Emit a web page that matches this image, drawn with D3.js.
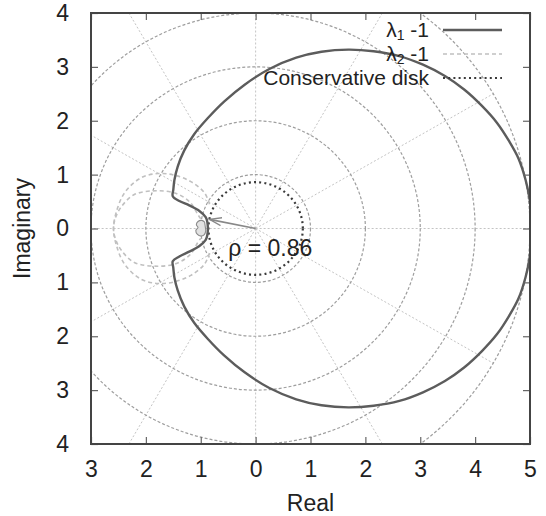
<!DOCTYPE html>
<html>
<head>
<meta charset="utf-8">
<script src="https://cdn.jsdelivr.net/npm/d3@7"></script>
<style>
  body { margin: 0; background: #fff; }
  text { font-family: "Liberation Sans", Arial, sans-serif; fill: #222; }
</style>
</head>
<body>
<div id="chart"></div>
<script>
// tick values and the labels as printed (minus signs are missing in the figure)
const xTicks = [-3, -2, -1, 0, 1, 2, 3, 4, 5];
const xTickLabels = ["3", "2", "1", "0", "1", "2", "3", "4", "5"];
const yTicks = [-4, -3, -2, -1, 0, 1, 2, 3, 4];
const yTickLabels = ["4", "3", "2", "1", "0", "1", "2", "3", "4"];

// polar grid
const gridRadii = [1, 2, 3, 4, 5];
const gridAngles = [0, 30, 60, 90, 120, 150, 180, 210, 240, 270, 300, 330];

// lambda_1 - 1 (solid)
const lambda1 = [
  [5.04, 0.0], [5.0, 0.5], [4.92, 0.9], [4.79, 1.3], [4.62, 1.62], [4.4, 1.96],
  [4.12, 2.28], [3.8, 2.58], [3.45, 2.83], [3.05, 3.04], [2.62, 3.2], [2.15, 3.29],
  [1.69, 3.32], [1.2, 3.28], [0.74, 3.17], [0.25, 2.96], [-0.2, 2.67], [-0.57, 2.36],
  [-0.87, 2.05], [-1.12, 1.75], [-1.3, 1.45], [-1.42, 1.15], [-1.48, 0.9], [-1.5, 0.72],
  [-1.51, 0.6], [-1.39, 0.51], [-1.21, 0.43], [-1.03, 0.33], [-0.91, 0.21],
  [-0.88, 0.12], [-0.88, -0.12], [-0.91, -0.21], [-1.03, -0.33], [-1.21, -0.43],
  [-1.39, -0.52], [-1.51, -0.61], [-1.5, -0.73], [-1.48, -0.91], [-1.42, -1.15],
  [-1.3, -1.45], [-1.12, -1.75], [-0.87, -2.05], [-0.57, -2.36], [-0.2, -2.67],
  [0.25, -2.96], [0.74, -3.17], [1.2, -3.28], [1.69, -3.32], [2.15, -3.29], [2.62, -3.2],
  [3.05, -3.04], [3.45, -2.83], [3.8, -2.58], [4.12, -2.28], [4.4, -1.96], [4.62, -1.62],
  [4.79, -1.3], [4.92, -0.9], [5.0, -0.5], [5.04, 0.0]
];
// small knot of lambda_1 near -1
const lambda1Knot = [
  [-0.93, 0.12], [-0.98, 0.15], [-1.05, 0.13], [-1.08, 0.07], [-1.05, 0.02], [-1.09, -0.04],
  [-1.06, -0.11], [-1.0, -0.14], [-0.94, -0.12], [-0.91, -0.05], [-0.92, 0.05], [-0.93, 0.12]
];

// lambda_2 - 1 (dashed), two loops on the left
const lambda2Outer = [
  [-0.84, 0.45], [-0.93, 0.66], [-1.18, 0.87], [-1.48, 0.99], [-1.78, 1.02], [-2.09, 0.94],
  [-2.39, 0.66], [-2.54, 0.3], [-2.59, 0.0], [-2.54, -0.3], [-2.39, -0.66], [-2.09, -0.94],
  [-1.78, -1.02], [-1.48, -0.99], [-1.18, -0.87], [-0.93, -0.66], [-0.84, -0.45]
];
const lambda2Inner = [
  [-1.0, 0.18], [-1.06, 0.27], [-1.18, 0.47], [-1.42, 0.64], [-1.78, 0.7], [-2.21, 0.63],
  [-2.45, 0.4], [-2.56, 0.18], [-2.59, 0.0], [-2.56, -0.18], [-2.45, -0.4], [-2.21, -0.63],
  [-1.78, -0.7], [-1.42, -0.64], [-1.18, -0.47], [-1.06, -0.27], [-1.0, -0.18]
];

const rho = 0.86;
const arrowTip = [-0.84, 0.17];
const legendItems = ["λ1", "λ2", "Conservative disk"];

const W = 546, H = 516;
const frame = { left: 91, right: 530, top: 13, bottom: 444 };
const fontSize = 23;

const svg = d3.select("#chart").append("svg")
  .attr("width", W).attr("height", H);

const x = d3.scaleLinear().domain([-3, 5]).range([frame.left, frame.right]);
const y = d3.scaleLinear().domain([-4, 4]).range([frame.bottom, frame.top]);

const defs = svg.append("defs");
defs.append("clipPath").attr("id", "plot")
  .append("rect").attr("x", frame.left).attr("y", frame.top)
  .attr("width", frame.right - frame.left).attr("height", frame.bottom - frame.top);
defs.append("marker").attr("id", "head")
  .attr("markerUnits", "userSpaceOnUse")
  .attr("markerWidth", 14).attr("markerHeight", 10)
  .attr("refX", 12).attr("refY", 5).attr("orient", "auto")
  .append("path").attr("d", "M0,1 L12,5 L0,9")
  .attr("fill", "none").attr("stroke", "#888").attr("stroke-width", 1.3);

const plot = svg.append("g").attr("clip-path", "url(#plot)");

// radial grid lines
plot.selectAll(".spoke")
  .data(gridAngles)
  .join("line")
    .attr("x1", x(0)).attr("y1", y(0))
    .attr("x2", a => x(5 * Math.cos(a * Math.PI / 180)))
    .attr("y2", a => y(5 * Math.sin(a * Math.PI / 180)))
    .attr("stroke", "#c4c4c4").attr("stroke-width", 1)
    .attr("stroke-dasharray", "2,2");

// grid circles
plot.selectAll(".ring")
  .data(gridRadii)
  .join("ellipse")
    .attr("cx", x(0)).attr("cy", y(0))
    .attr("rx", r => x(r) - x(0)).attr("ry", r => y(0) - y(r))
    .attr("fill", "none").attr("stroke", "#9e9e9e").attr("stroke-width", 1.2)
    .attr("stroke-dasharray", "3,2");

const line = d3.line().x(d => x(d[0])).y(d => y(d[1])).curve(d3.curveCatmullRom);

// lambda 2 dashed
[lambda2Outer, lambda2Inner].forEach(pts => {
  plot.append("path").attr("d", line(pts))
    .attr("fill", "none").attr("stroke", "#c0c0c0").attr("stroke-width", 1.6)
    .attr("stroke-dasharray", "4,3");
});

// conservative disk
plot.append("ellipse")
  .attr("cx", x(0)).attr("cy", y(0))
  .attr("rx", x(rho) - x(0)).attr("ry", y(0) - y(rho))
  .attr("fill", "none").attr("stroke", "#3a3a3a").attr("stroke-width", 2.2)
  .attr("stroke-dasharray", "2,3.2");

// lambda 1 solid
plot.append("path").attr("d", line(lambda1))
  .attr("fill", "none").attr("stroke", "#5c5c5c").attr("stroke-width", 2.4);
plot.append("path").attr("d", line(lambda1Knot))
  .attr("fill", "#e2e2e2").attr("stroke", "#8a8a8a").attr("stroke-width", 1.1);

// arrow
plot.append("line")
  .attr("x1", x(0)).attr("y1", y(0))
  .attr("x2", x(arrowTip[0])).attr("y2", y(arrowTip[1]))
  .attr("stroke", "#888").attr("stroke-width", 1.6)
  .attr("marker-end", "url(#head)");

svg.append("text")
  .attr("x", x(-0.5)).attr("y", y(-0.51))
  .attr("font-size", fontSize)
  .text("ρ = " + rho);

// axes with inward ticks, mirrored
const tickColor = "#666";
function styleAxis(g) {
  g.select(".domain").remove();
  g.selectAll(".tick line").attr("stroke", tickColor).attr("stroke-width", 1.2);
  g.selectAll(".tick text").attr("font-size", fontSize).attr("fill", "#222")
    .attr("font-family", "Liberation Sans, Arial, sans-serif");
}
svg.append("g").attr("transform", `translate(0,${frame.bottom})`)
  .call(d3.axisBottom(x).tickValues(xTicks).tickSize(-7).tickPadding(17)
    .tickFormat((d, i) => xTickLabels[i]))
  .call(styleAxis);
svg.append("g").attr("transform", `translate(0,${frame.top})`)
  .call(d3.axisTop(x).tickValues(xTicks).tickSize(-7).tickFormat(""))
  .call(styleAxis);
svg.append("g").attr("transform", `translate(${frame.left},0)`)
  .call(d3.axisLeft(y).tickValues(yTicks).tickSize(-7).tickPadding(22)
    .tickFormat((d, i) => yTickLabels[i]))
  .call(styleAxis);
svg.append("g").attr("transform", `translate(${frame.right},0)`)
  .call(d3.axisRight(y).tickValues(yTicks).tickSize(-7).tickFormat(""))
  .call(styleAxis);

// frame
svg.append("rect")
  .attr("x", frame.left).attr("y", frame.top)
  .attr("width", frame.right - frame.left).attr("height", frame.bottom - frame.top)
  .attr("fill", "none").attr("stroke", "#444").attr("stroke-width", 2);

// axis titles
svg.append("text")
  .attr("x", (frame.left + frame.right) / 2).attr("y", 511)
  .attr("text-anchor", "middle").attr("font-size", fontSize)
  .text("Real");
svg.append("text")
  .attr("transform", `translate(30,${(frame.top + frame.bottom) / 2}) rotate(-90)`)
  .attr("text-anchor", "middle").attr("font-size", fontSize)
  .text("Imaginary");

// legend
const legendY = [30, 54, 78];
const legendStyle = [
  { stroke: "#5c5c5c", width: 2.4, dash: null },
  { stroke: "#c0c0c0", width: 1.6, dash: "4,3" },
  { stroke: "#3a3a3a", width: 2.2, dash: "2,3.2" }
];
legendItems.forEach((name, i) => {
  const t = svg.append("text")
    .attr("x", 429).attr("y", legendY[i] + 7)
    .attr("text-anchor", "end").attr("font-size", 21);
  if (i < 2) {
    t.append("tspan").text(name[0]);
    t.append("tspan").attr("font-size", 14).attr("dy", 3).text(name[1]);
    t.append("tspan").attr("dy", -3).text(" -1");
  } else {
    t.text(name);
  }
  svg.append("line")
    .attr("x1", 443).attr("x2", 502)
    .attr("y1", legendY[i]).attr("y2", legendY[i])
    .attr("stroke", legendStyle[i].stroke)
    .attr("stroke-width", legendStyle[i].width)
    .attr("stroke-dasharray", legendStyle[i].dash);
});
</script>
</body>
</html>
